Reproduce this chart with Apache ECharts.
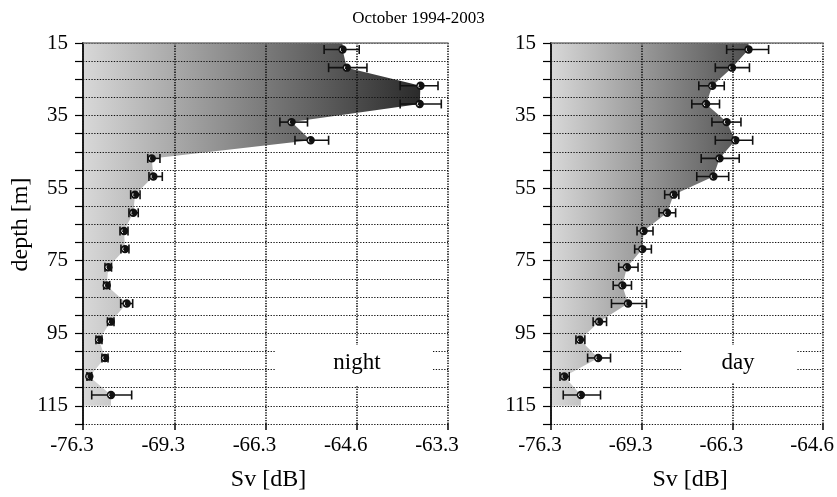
<!DOCTYPE html>
<html><head><meta charset="utf-8">
<script src="https://cdn.jsdelivr.net/npm/echarts@6/dist/echarts.min.js"></script>
<style>html,body{margin:0;padding:0;background:#fff}#c{width:837px;height:497px}</style>
</head><body><div id="c"></div>
<script>
// depth of each sample [m]
const depths = [16.8, 21.8, 26.8, 31.8, 36.8, 41.8, 46.8, 51.8, 56.8, 61.8, 66.8, 71.8, 76.8, 81.8, 86.8, 91.8, 96.8, 101.8, 106.9, 112.0];
// night Sv [dB] with error bar limits
const nightSv = [-64.76, -64.69, -63.62, -63.63, -65.71, -65.33, -70.53, -70.43, -71.74, -71.89, -72.77, -72.67, -74.87, -75.15, -72.50, -74.48, -76.86, -75.48, -80.9, -74.43];
const nightLo = [-65.08, -65.00, -63.89, -63.89, -65.96, -65.64, -70.79, -70.71, -72.12, -72.28, -73.22, -73.11, -75.48, -75.74, -73.14, -75.01, -77.77, -76.12, -82.9, -79.5];
const nightHi = [-64.49, -64.37, -63.40, -63.36, -65.39, -65.00, -70.04, -69.91, -71.34, -71.48, -72.37, -72.28, -74.35, -74.64, -71.94, -73.99, -76.12, -74.92, -79.5, -72.03];
// day Sv [dB] with error bar limits
const daySv = [-65.92, -66.30, -66.80, -66.97, -66.43, -66.22, -66.61, -66.77, -67.99, -68.23, -69.21, -69.27, -70.07, -70.34, -70.01, -72.05, -74.26, -72.14, -77.65, -74.12];
const dayLo = [-66.43, -66.72, -67.18, -67.39, -66.81, -66.72, -67.11, -67.24, -68.32, -68.54, -69.53, -69.65, -70.57, -70.94, -71.06, -72.63, -74.91, -73.24, -79.34, -78.00];
const dayHi = [-65.50, -65.90, -66.49, -66.61, -66.09, -65.83, -66.13, -66.38, -67.81, -67.92, -68.79, -68.86, -69.48, -69.82, -69.08, -71.43, -73.58, -71.13, -76.27, -71.93];
// x tick labels (axis is linear in backscatter, labelled in dB)
const xTickLabelsNight = ['-76.3', '-69.3', '-66.3', '-64.6', '-63.3'];
const xTickLabelsDay = ['-76.3', '-69.3', '-66.3', '-64.6'];
const depthMin = 15, depthMax = 120, depthAreaBottom = 115;
const REF_DB = -69.3; // one linear unit

function lin(db) { return Math.pow(10, (db - REF_DB) / 10); }

const FONT = 'Liberation Serif';
const chart = echarts.init(document.getElementById('c'), null, { renderer: 'canvas' });

function areaRender(sv, xMax) {
  return function (params, api) {
    const pts = [];
    pts.push(api.coord([0, depthMin]));
    pts.push(api.coord([lin(sv[0]), depthMin]));
    for (let i = 0; i < sv.length; i++) pts.push(api.coord([lin(sv[i]), depths[i]]));
    pts.push(api.coord([lin(sv[sv.length - 1]), depthAreaBottom]));
    pts.push(api.coord([0, depthAreaBottom]));
    const x0 = api.coord([0, depthMin])[0], x1 = api.coord([xMax, depthMin])[0];
    return {
      type: 'polygon', shape: { points: pts },
      style: { fill: new echarts.graphic.LinearGradient(x0, 0, x1, 0, [
        { offset: 0, color: '#d8d8d8' }, { offset: 1, color: '#1c1c1c' }], true) }
    };
  };
}

function errRender(params, api) {
  const y = api.value(3);
  const lo = api.coord([api.value(0), y]);
  const hi = api.coord([api.value(1), y]);
  const c = api.coord([api.value(2), y]);
  const h = 4.5;
  const st = { stroke: '#111', lineWidth: 1.6 };
  return { type: 'group', children: [
    { type: 'line', shape: { x1: lo[0], y1: lo[1], x2: hi[0], y2: hi[1] }, style: st },
    { type: 'line', shape: { x1: lo[0], y1: lo[1] - h, x2: lo[0], y2: lo[1] + h }, style: st },
    { type: 'line', shape: { x1: hi[0], y1: hi[1] - h, x2: hi[0], y2: hi[1] + h }, style: st },
    { type: 'circle', shape: { cx: c[0], cy: c[1], r: 4.2 }, style: { fill: '#111' } },
    { type: 'arc', shape: { cx: c[0], cy: c[1], r: 2.3, startAngle: Math.PI * 0.65, endAngle: Math.PI * 1.25 }, style: { stroke: '#eee', lineWidth: 1, fill: null } }
  ] };
}

function errData(sv, lo, hi) {
  return sv.map((v, i) => [lin(lo[i]), lin(hi[i]), lin(v), depths[i]]);
}

const dotted = { color: '#111', width: 1.2, type: [1.3, 1.5] };
const dottedV = { color: '#111', width: 1.6, type: [1.3, 1.3] };
const labelStyle = { fontFamily: FONT, fontSize: 21, color: '#000' };
const nameStyle = { fontFamily: FONT, fontSize: 24, color: '#000' };

function bottomX(grid, max, labels) {
  return {
    gridIndex: grid, type: 'value', position: 'bottom', min: 0, max: max, interval: 1, z: 5,
    axisLine: { show: false },
    axisTick: { show: true, length: 6, lineStyle: { color: '#000', width: 1.5 } },
    axisLabel: Object.assign({ margin: 11, padding: [0, 22, 0, 0], formatter: v => labels[Math.round(v)] || '' }, labelStyle),
    splitLine: { show: true, lineStyle: dottedV },
    name: 'Sv [dB]', nameLocation: 'middle', nameGap: 44,
    nameTextStyle: Object.assign({ padding: [0, 0, 0, 6] }, nameStyle)
  };
}
function topX(grid, max) {
  return {
    gridIndex: grid, type: 'value', position: 'top', min: 0, max: max, interval: 1, z: 5,
    axisLine: { show: true, lineStyle: { color: '#777', width: 1.5 } },
    axisTick: { show: false }, axisLabel: { show: false }, splitLine: { show: false }
  };
}
function leftY(grid, withName) {
  return {
    gridIndex: grid, type: 'value', inverse: true, min: depthMin, max: depthMax, interval: 5, z: 5,
    axisLine: { show: true, lineStyle: { color: '#000', width: 1.8 } },
    axisTick: { show: true, length: 8, lineStyle: { color: '#000', width: 1.2 } },
    axisLabel: Object.assign({ margin: 15, formatter: v => ((v - 15) % 20 === 0 && v <= 115) ? String(v) : '' }, labelStyle),
    splitLine: { show: true, lineStyle: dotted },
    name: withName ? 'depth [m]' : '', nameLocation: 'middle', nameGap: 50, nameRotate: 90,
    nameTextStyle: Object.assign({ padding: [0, 0, 0, 18] }, nameStyle)
  };
}
function rightY(grid) {
  return {
    gridIndex: grid, type: 'value', position: 'right', inverse: true, min: depthMin, max: depthMax, interval: 5, z: 5,
    axisLine: { show: true, lineStyle: { color: '#222', width: 1.5 } },
    axisTick: { show: false }, axisLabel: { show: false }, splitLine: { show: false }
  };
}

chart.setOption({
  animation: false,
  backgroundColor: '#fff',
  title: { text: 'October 1994-2003', left: 'center', top: 5,
    textStyle: { fontFamily: FONT, fontSize: 17, fontWeight: 'normal', color: '#000' } },
  grid: [
    { left: 83, top: 43, width: 365, height: 384 },
    { left: 551, top: 43, width: 273, height: 384 }
  ],
  xAxis: [bottomX(0, 4, xTickLabelsNight), bottomX(1, 3, xTickLabelsDay), topX(0, 4), topX(1, 3)],
  yAxis: [leftY(0, true), leftY(1, false), rightY(0), rightY(1)],
  series: [
    { type: 'custom', xAxisIndex: 0, yAxisIndex: 0, z: 1, silent: true, data: [[0, depthMin]],
      renderItem: areaRender(nightSv, 4) },
    { type: 'custom', xAxisIndex: 1, yAxisIndex: 1, z: 1, silent: true, data: [[0, depthMin]],
      renderItem: areaRender(daySv, 3) },
    { type: 'custom', xAxisIndex: 0, yAxisIndex: 0, z: 10, clip: false,
      encode: { x: [0, 1, 2], y: 3 }, data: errData(nightSv, nightLo, nightHi), renderItem: errRender },
    { type: 'custom', xAxisIndex: 1, yAxisIndex: 1, z: 10, clip: false,
      encode: { x: [0, 1, 2], y: 3 }, data: errData(daySv, dayLo, dayHi), renderItem: errRender }
  ],
  graphic: [
    { type: 'rect', z: 6, shape: { x: 275, y: 345, width: 157, height: 40 }, style: { fill: '#fff' } },
    { type: 'text', z: 7, x: 357, y: 363, style: { text: 'night', fontFamily: FONT, fontSize: 23, fill: '#000', align: 'center', verticalAlign: 'middle' } },
    { type: 'rect', z: 6, shape: { x: 682, y: 345, width: 114, height: 38 }, style: { fill: '#fff' } },
    { type: 'text', z: 7, x: 738, y: 363, style: { text: 'day', fontFamily: FONT, fontSize: 23, fill: '#000', align: 'center', verticalAlign: 'middle' } }
  ]
});
</script></body></html>
